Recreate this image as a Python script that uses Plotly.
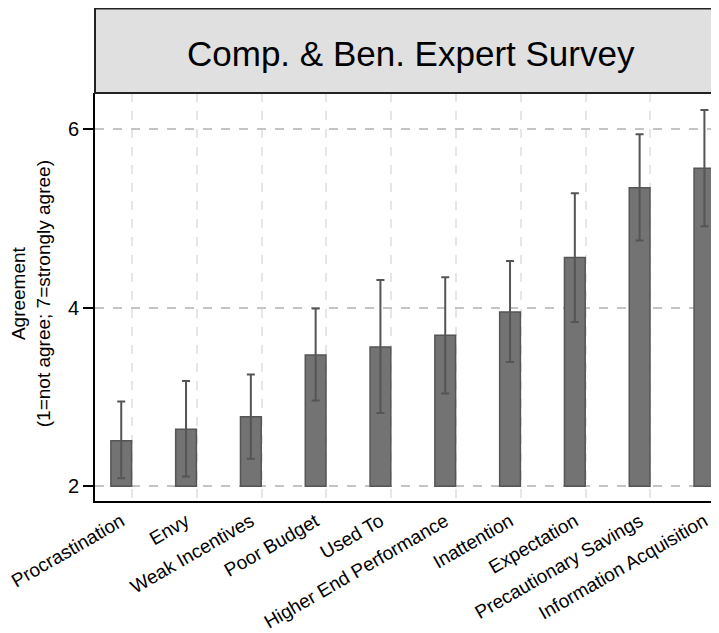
import plotly.graph_objects as go

categories = ["Procrastination", "Envy", "Weak Incentives", "Poor Budget", "Used To",
              "Higher End Performance", "Inattention", "Expectation",
              "Precautionary Savings", "Information Acquisition"]
means = [2.51, 2.64, 2.78, 3.47, 3.56, 3.69, 3.95, 4.56, 5.34, 5.56]
ci_low = [2.09, 2.11, 2.31, 2.96, 2.82, 3.04, 3.39, 3.84, 4.75, 4.91]
ci_high = [2.95, 3.18, 3.25, 3.99, 4.31, 4.34, 4.52, 5.28, 5.94, 6.21]
y_ticks = [2, 4, 6]
baseline = 2
title_text = "Comp. & Ben. Expert Survey"
y_title = "Agreement<br>(1=not agree; 7=strongly agree)"

pos = list(range(len(categories)))

fig = go.Figure()
fig.add_trace(go.Bar(
    x=pos, y=[m - baseline for m in means], base=baseline, width=0.32,
    marker=dict(color="#737373", line=dict(color="#555555", width=1.5)),
    showlegend=False, hoverinfo="skip"))
fig.add_trace(go.Scatter(
    x=pos, y=means, mode="markers", marker=dict(size=1, opacity=0),
    error_y=dict(type="data", symmetric=False,
                 array=[h - m for h, m in zip(ci_high, means)],
                 arrayminus=[m - l for m, l in zip(means, ci_low)],
                 color="#555555", thickness=2, width=4),
    showlegend=False, hoverinfo="skip"))

fig.update_layout(
    width=711, height=625,
    margin=dict(l=86, r=0, t=85, b=130),
    paper_bgcolor="white", plot_bgcolor="white",
    font=dict(family="Liberation Sans, Arial", color="#222222"),
    xaxis=dict(range=[-0.405, 9.225], tickvals=pos, ticktext=categories,
               tickangle=-30, tickfont=dict(size=19, color="black"), ticks="",
               ticklabeloverflow="allow",
               showgrid=False, zeroline=False,
               showline=True, linecolor="black", linewidth=2,
               minor=dict(showgrid=True, tick0=0.165, dtick=1,
                          gridcolor="#e6e6e6", griddash="dash", gridwidth=2)),
    yaxis=dict(range=[1.836, 6.401], tickvals=y_ticks,
               tickfont=dict(size=20, color="black"),
               ticks="outside", ticklen=10, tickwidth=1.5, tickcolor="black",
               showgrid=True, gridcolor="#c4c4c4", griddash="dash", gridwidth=2,
               zeroline=False, showline=True, linecolor="black", linewidth=2),
    shapes=[dict(type="rect", xref="paper", yref="paper",
                 x0=0, x1=1.05, y0=1.0, y1=1.207,
                 fillcolor="#e0e0e0", line=dict(color="#222222", width=2),
                 layer="above")],
    annotations=[
        dict(text=title_text, xref="paper", yref="paper", x=0.507, y=1.0976,
             xanchor="center", yanchor="middle", showarrow=False,
             font=dict(size=35, color="black")),
        dict(text=y_title, xref="paper", yref="paper", x=-0.1024, y=0.507,
             xanchor="center", yanchor="middle", showarrow=False, textangle=-90,
             font=dict(size=19, color="black")),
    ],
)

fig.write_html("out.html")
